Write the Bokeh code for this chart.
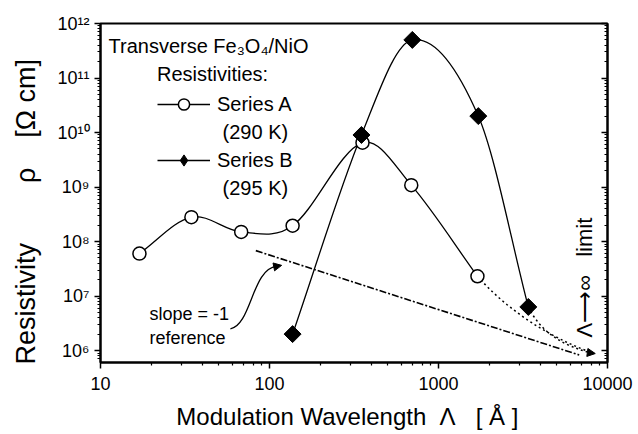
import numpy as np
from bokeh.plotting import figure
from bokeh.models import (LogAxis, FixedTicker, CustomJSTickFormatter, Legend, LegendItem,
                          Label, Arrow, NormalHead, ColumnDataSource)
from bokeh.embed import file_html
from bokeh.resources import INLINE

FONT = "Liberation Sans"
NB = "\u00a0"

# ---- data ----
a_wavelength = [17, 34.5, 68, 137, 355, 690, 1700]
a_resistivity = [6.0e7, 2.8e8, 1.5e8, 1.95e8, 6.5e9, 1.08e9, 2.3e7]
b_wavelength = [137, 350, 700, 1720, 3400]
b_resistivity = [2.0e6, 9.0e9, 5.0e11, 2.0e10, 6.3e6]

# slope = -1 reference line (end points)
ref_wavelength = [83, 6800]
ref_resistivity = [6.8e7, 8.3e5]

# Lambda -> infinity limit point that the dotted extrapolations head to
limit_wavelength = 8300
limit_resistivity = 8.8e5
# mid control points of the dotted extrapolations
a_extrap_ctrl = (3200, 2.6e6)
b_extrap_ctrl = (4300, 1.4e6)

x_ticks = [10, 100, 1000, 10000]
y_ticks = [1e6, 1e7, 1e8, 1e9, 1e10, 1e11, 1e12]
x_minor = [m * 10.0 ** e for e in (1, 2, 3) for m in range(2, 10)]
y_minor = [m * 10.0 ** e for e in range(5, 12) for m in range(2, 10)]

x_label = "Modulation Wavelength" + NB * 2 + "\u039b" + NB * 3 + "[" + NB + "\u00c5" + NB + "]" + NB * 2
y_label = "Resistivity" + NB * 8 + "\u03c1" + NB * 4 + "[\u03a9" + NB + "cm]" + NB * 5


def smooth_segments(xs, ys):
    lx = np.log10(np.asarray(xs, float))
    ly = np.log10(np.asarray(ys, float))
    n = len(lx)
    m = np.empty(n)
    for i in range(n):
        if i == 0:
            m[i] = (ly[1] - ly[0]) / (lx[1] - lx[0])
        elif i == n - 1:
            m[i] = (ly[-1] - ly[-2]) / (lx[-1] - lx[-2])
        else:
            m[i] = (ly[i + 1] - ly[i - 1]) / (lx[i + 1] - lx[i - 1])
    d = np.diff(lx) / 3.0
    return dict(x0=10 ** lx[:-1], y0=10 ** ly[:-1], x1=10 ** lx[1:], y1=10 ** ly[1:],
                cx0=10 ** (lx[:-1] + d), cy0=10 ** (ly[:-1] + m[:-1] * d),
                cx1=10 ** (lx[1:] - d), cy1=10 ** (ly[1:] - m[1:] * d))


p = figure(width=638, height=434, x_axis_type="log", y_axis_type="log",
           x_range=(10, 10000), y_range=(10 ** 5.78, 1e12),
           output_backend="svg", toolbar_location=None,
           min_border_left=100, min_border_right=31, min_border_top=23, min_border_bottom=72)
p.background_fill_color = "white"
p.border_fill_color = "white"
p.outline_line_color = "black"
p.outline_line_width = 2
p.xgrid.visible = False
p.ygrid.visible = False

# axes
sup = CustomJSTickFormatter(code="""
const s = {'0':'\u2070','1':'\u00b9','2':'\u00b2','3':'\u00b3','4':'\u2074','5':'\u2075','6':'\u2076','7':'\u2077','8':'\u2078','9':'\u2079','-':'\u207b'};
const e = Math.round(Math.log10(tick));
return '10' + String(e).split('').map(c => s[c]).join('');
""")
plain = CustomJSTickFormatter(code="return Math.round(tick).toString();")

xa = p.xaxis[0]
xa.ticker = FixedTicker(ticks=x_ticks, minor_ticks=x_minor)
xa.formatter = plain
xa.axis_label = x_label
ya = p.yaxis[0]
ya.ticker = FixedTicker(ticks=y_ticks, minor_ticks=y_minor)
ya.formatter = sup
ya.axis_label = y_label

for ax in (xa, ya):
    ax.axis_line_color = "black"
    ax.axis_line_width = 2
    ax.major_tick_line_color = "black"
    ax.minor_tick_line_color = "black"
    ax.major_tick_line_width = 1.5
    ax.minor_tick_line_width = 1.2
    ax.major_tick_in = 0
    ax.major_tick_out = 6
    ax.minor_tick_in = 0
    ax.minor_tick_out = 3
    ax.major_label_text_font = FONT
    ax.major_label_text_font_size = "18px"
    ax.major_label_text_color = "black"
    ax.axis_label_text_font = FONT
    ax.axis_label_text_font_style = "normal"
    ax.axis_label_text_color = "black"
xa.axis_label_text_font_size = "24px"
ya.axis_label_text_font_size = "27px"
xa.major_label_standoff = 8
xa.axis_label_standoff = 10
ya.major_label_standoff = 5
ya.axis_label_standoff = 13

ra = LogAxis(ticker=FixedTicker(ticks=y_ticks, minor_ticks=y_minor),
             formatter=CustomJSTickFormatter(code="return '';"))
ra.axis_line_color = "black"
ra.axis_line_width = 2
ra.major_tick_in = 6
ra.major_tick_out = 0
ra.minor_tick_in = 3
ra.minor_tick_out = 0
ra.major_tick_line_width = 1.5
ra.minor_tick_line_width = 1.2
ra.major_label_text_font_size = "1px"
p.add_layout(ra, "right")

# ---- curves ----
sa = ColumnDataSource(smooth_segments(a_wavelength, a_resistivity))
sb = ColumnDataSource(smooth_segments(b_wavelength, b_resistivity))
p.bezier(x0="x0", y0="y0", x1="x1", y1="y1", cx0="cx0", cy0="cy0", cx1="cx1", cy1="cy1",
         source=sa, line_color="black", line_width=1.3)
p.bezier(x0="x0", y0="y0", x1="x1", y1="y1", cx0="cx0", cy0="cy0", cx1="cx1", cy1="cy1",
         source=sb, line_color="black", line_width=1.3)

# dotted extrapolations to the infinite-wavelength limit
p.quadratic(x0=[a_wavelength[-1], b_wavelength[-1]], y0=[a_resistivity[-1], b_resistivity[-1]],
            x1=[limit_wavelength, limit_wavelength], y1=[limit_resistivity, limit_resistivity],
            cx=[a_extrap_ctrl[0], b_extrap_ctrl[0]], cy=[a_extrap_ctrl[1], b_extrap_ctrl[1]],
            line_color="black", line_width=1.5, line_dash="2 3")
p.add_layout(Arrow(end=NormalHead(size=8, fill_color="black", line_color="black"),
                   x_start=limit_wavelength * 0.93, y_start=limit_resistivity * 1.04,
                   x_end=limit_wavelength * 1.02, y_end=limit_resistivity,
                   line_alpha=0))

# slope = -1 reference line
p.line(ref_wavelength, ref_resistivity, line_color="black", line_width=1.6, line_dash="7 2 2 2")

# curved pointer from the annotation to the reference line
p.bezier(x0=[58.7], y0=[2.5e6], cx0=[78], cy0=[2.9e6], cx1=[79], cy1=[3.2e7], x1=[110], y1=[3.5e7],
         line_color="black", line_width=1.3)
p.add_layout(Arrow(end=NormalHead(size=8, fill_color="black", line_color="black"),
                   x_start=100, y_start=3.3e7, x_end=118, y_end=3.65e7, line_alpha=0))

# markers
ra_sc = p.scatter(a_wavelength, a_resistivity, marker="circle", size=13,
                  fill_color="white", line_color="black", line_width=1.5)
rb_sc = p.scatter(b_wavelength, b_resistivity, marker="square", size=12, angle=np.pi / 4,
                  fill_color="black", line_color="black", line_width=1)

# legend keys (single point => nothing drawn in the plot area)
la = p.line(a_wavelength[:1], a_resistivity[:1], line_color="black", line_width=1.3)
lb = p.line(b_wavelength[:1], b_resistivity[:1], line_color="black", line_width=1.3)
kb = p.scatter(b_wavelength[:1], b_resistivity[:1], marker="diamond", size=0,
               fill_color="black", line_color="black", line_width=1)
blank1 = p.line(a_wavelength[:1], a_resistivity[:1], line_alpha=0)
blank2 = p.line(b_wavelength[:1], b_resistivity[:1], line_alpha=0)

legend = Legend(items=[
    LegendItem(label="Series A", renderers=[la, ra_sc]),
    LegendItem(label=NB + "(290 K)", renderers=[blank1]),
    LegendItem(label="Series B", renderers=[lb, kb]),
    LegendItem(label=NB + "(295 K)", renderers=[blank2]),
], title="Resistivities:", location=(57, 160))
legend.title_text_font = FONT
legend.title_text_font_size = "20px"
legend.title_text_font_style = "normal"
legend.title_text_color = "black"
legend.title_standoff = 4
legend.label_text_font = FONT
legend.label_text_font_size = "20px"
legend.label_text_color = "black"
legend.label_standoff = 7
legend.glyph_width = 53
legend.glyph_height = 28
legend.label_height = 28
legend.spacing = 0
legend.padding = 0
legend.margin = 0
legend.border_line_color = None
legend.background_fill_alpha = 0
p.add_layout(legend)

# text annotations (screen units relative to the plot frame)
p.add_layout(Label(x=8, y=317, x_units="screen", y_units="screen",
                   text="Transverse Fe\u2083O\u2084/NiO", text_font=FONT, text_font_size="20px",
                   text_color="black", text_baseline="alphabetic"))
p.add_layout(Label(x=49, y=49, x_units="screen", y_units="screen", text="slope = -1",
                   text_font=FONT, text_font_size="18px", text_color="black",
                   text_baseline="alphabetic"))
p.add_layout(Label(x=49, y=25, x_units="screen", y_units="screen", text="reference",
                   text_font=FONT, text_font_size="18px", text_color="black",
                   text_baseline="alphabetic"))
p.add_layout(Label(x=484, y=25, x_units="screen", y_units="screen",
                   text="\u039b\u27f6\u221e" + NB * 3 + "limit", angle=np.pi / 2,
                   text_font=FONT, text_font_size="22px", text_color="black",
                   text_align="left", text_baseline="middle"))

open("out.html", "w").write(file_html(p, INLINE))
